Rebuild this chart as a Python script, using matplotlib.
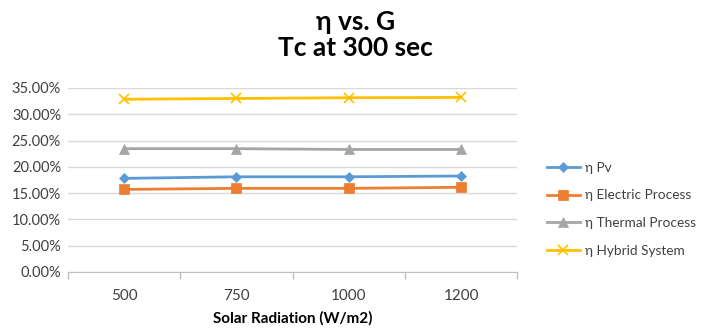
import matplotlib
matplotlib.use("Agg")
import matplotlib.pyplot as plt
from matplotlib.ticker import FuncFormatter, FixedLocator

categories = ["500", "750", "1000", "1200"]
eta_pv = [17.8, 18.1, 18.1, 18.25]
eta_electric = [15.7, 15.9, 15.9, 16.1]
eta_thermal = [23.45, 23.45, 23.3, 23.3]
eta_hybrid = [32.85, 33.0, 33.15, 33.2]
y_ticks = [0, 5, 10, 15, 20, 25, 30, 35]

plt.rcParams['font.family'] = ['Lato', 'DejaVu Sans']

fig = plt.figure(figsize=(7.01, 3.32), dpi=100)
ax = fig.add_axes([0.097, 0.181, 0.641, 0.554])

x = list(range(len(categories)))
series = [
    (eta_pv, "η Pv", "#5B9BD5", "D", 5),
    (eta_electric, "η Electric Process", "#ED7D31", "s", 7.5),
    (eta_thermal, "η Thermal Process", "#A5A5A5", "^", 7),
    (eta_hybrid, "η Hybrid System", "#FFC000", "x", 7),
]
for vals, label, color, marker, ms in series:
    ax.plot(x, vals, color=color, lw=2, marker=marker, markersize=ms,
            markeredgewidth=1.2 if marker == "x" else 0.5, label=label,
            markeredgecolor=color)

ax.set_xlim(-0.5, len(categories) - 0.5)
ax.set_ylim(0, 35)
ax.yaxis.set_major_locator(FixedLocator(y_ticks))
ax.yaxis.set_major_formatter(FuncFormatter(lambda v, p: f"{v:.2f}%"))
ax.set_xticks(x)
ax.set_xticklabels(categories)
ax.set_xticks([i - 0.5 for i in range(len(categories) + 1)], minor=True)
ax.tick_params(axis='x', which='major', length=0, pad=12, labelsize=11, colors="#404040")
ax.tick_params(axis='x', which='minor', length=5, color="#BFBFBF", width=1)
ax.tick_params(axis='y', length=0, pad=5, labelsize=10.5, colors="#404040")
ax.grid(axis='y', color="#D9D9D9", lw=1)
ax.set_axisbelow(True)
for s in ["top", "right", "left"]:
    ax.spines[s].set_visible(False)
ax.spines["bottom"].set_color("#BFBFBF")
ax.spines["bottom"].set_zorder(0.5)

ax.set_xlabel("Solar Radiation (W/m2)", fontsize=11, fontweight="bold", labelpad=6)

fig.text(0.507, 0.935, "η vs. G", ha="center", va="center", fontsize=19, fontweight="bold")
fig.text(0.507, 0.855, "Tc at 300 sec", ha="center", va="center", fontsize=19, fontweight="bold")

fig.legend(loc="center left", bbox_to_anchor=(0.763, 0.37), frameon=False,
           fontsize=9.8, handlelength=2.4, labelspacing=1.15, handletextpad=0.35,
           labelcolor="#404040")

fig.savefig("out.png", dpi=100)
